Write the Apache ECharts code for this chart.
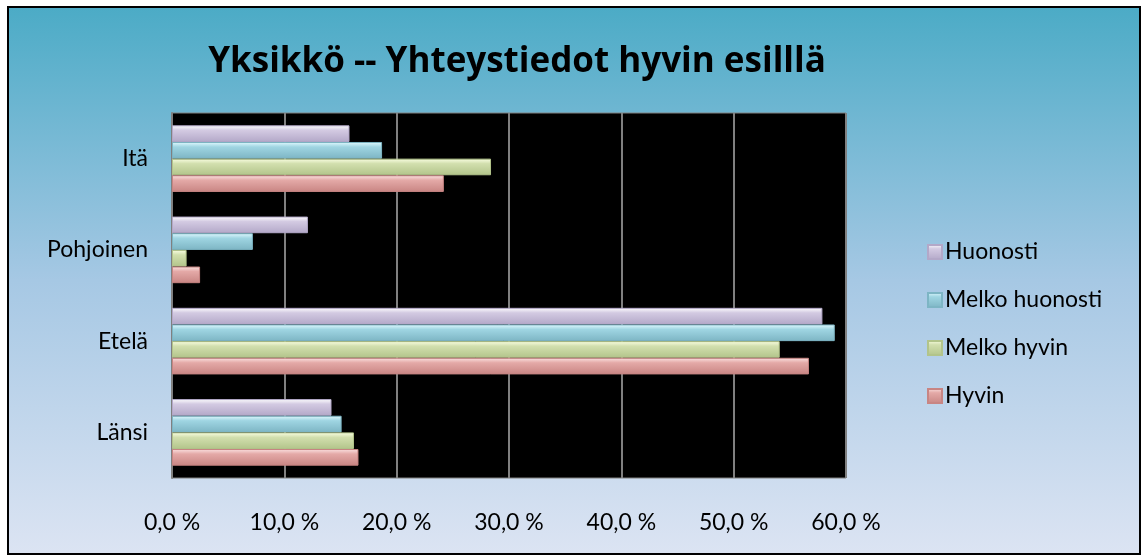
<!DOCTYPE html>
<html>
<head>
<meta charset="utf-8">
<script src="https://cdn.jsdelivr.net/npm/echarts@6/dist/echarts.min.js"></script>
<style>
  html, body { margin: 0; padding: 0; background: #fff; }
  #chart { width: 1146px; height: 560px; }
</style>
</head>
<body>
<div id="chart"></div>
<script>
const categories = ["Länsi", "Etelä", "Pohjoinen", "Itä"];
const hyvin = [16.6, 56.7, 2.5, 24.2];
const melkoHyvin = [16.2, 54.1, 1.3, 28.4];
const melkoHuonosti = [15.1, 59.0, 7.2, 18.7];
const huonosti = [14.2, 57.9, 12.1, 15.8];

const TITLE_FONT = "'Open Sans', 'Noto Sans', sans-serif";
const FONT = "Lato, 'Open Sans', sans-serif";

function bevel(light, base, dark) {
  return {
    color: new echarts.graphic.LinearGradient(0, 0, 0, 1, [
      { offset: 0, color: light },
      { offset: 0.3, color: base },
      { offset: 1, color: dark },
    ]),
    borderColor: dark,
    borderWidth: 1,
  };
}

// ECharts stacks horizontal bars top-down in series order
const seriesDefs = [
  { name: "Huonosti", data: huonosti, style: bevel("#FFFFFF", "#D3CAE2", "#B3A8C8") },
  { name: "Melko huonosti", data: melkoHuonosti, style: bevel("#E2FAFF", "#9FD5E2", "#7DB5C4") },
  { name: "Melko hyvin", data: melkoHyvin, style: bevel("#FBFFE4", "#D2DFAE", "#B2C48A") },
  { name: "Hyvin", data: hyvin, style: bevel("#FBE3E2", "#E4A9A7", "#C88583") },
];

const chart = echarts.init(document.getElementById("chart"));

const option = {
  backgroundColor: "#ffffff",
  animation: false,
  graphic: [
    {
      type: "rect",
      z: -10,
      shape: { x: 8, y: 7, width: 1132, height: 547 },
      style: {
        fill: new echarts.graphic.LinearGradient(0, 0, 0, 1, [
          { offset: 0, color: "#4BABC6" },
          { offset: 0.5, color: "#A6C8E4" },
          { offset: 1, color: "#DCE4F3" },
        ]),
        stroke: "#000000",
        lineWidth: 2,
      },
    },
  ],
  title: {
    text: "Yksikkö -- Yhteystiedot hyvin esilllä",
    left: 512,
    top: 40,
    textAlign: "center",
    textStyle: { fontFamily: TITLE_FONT, fontSize: 35, fontWeight: "bold", color: "#000" },
  },
  grid: {
    left: 172,
    right: 300,
    top: 113,
    bottom: 82,
    show: true,
    backgroundColor: "#000000",
    borderColor: "#808080",
    borderWidth: 1,
  },
  legend: {
    orient: "vertical",
    left: 922,
    top: 235,
    itemGap: 24,
    itemWidth: 14,
    itemHeight: 14,
    icon: "rect",
    data: ["Huonosti", "Melko huonosti", "Melko hyvin", "Hyvin"],
    textStyle: { fontFamily: FONT, fontSize: 23, lineHeight: 24, color: "#000", padding: [0, 0, 0, -2] },
  },
  xAxis: {
    type: "value",
    min: 0,
    max: 60,
    interval: 10,
    axisLine: { show: false },
    axisTick: { show: false },
    splitLine: { show: true, lineStyle: { color: "#808080", width: 2 } },
    axisLabel: {
      margin: 33,
      fontFamily: FONT,
      fontSize: 23,
      color: "#000",
      formatter: (v) => v.toFixed(1).replace(".", ",") + " %",
    },
  },
  yAxis: {
    type: "category",
    data: categories,
    axisLine: { show: true, lineStyle: { color: "#808080", width: 2 } },
    axisTick: { show: false },
    axisLabel: { margin: 24, fontFamily: FONT, fontSize: 23, color: "#000" },
  },
  series: seriesDefs.map((s) => ({
    name: s.name,
    type: "bar",
    data: s.data,
    barGap: "0%",
    barCategoryGap: "27%",
    itemStyle: s.style,
  })),
};

chart.setOption(option);
window.addEventListener("resize", () => chart.resize());
</script>
</body>
</html>
